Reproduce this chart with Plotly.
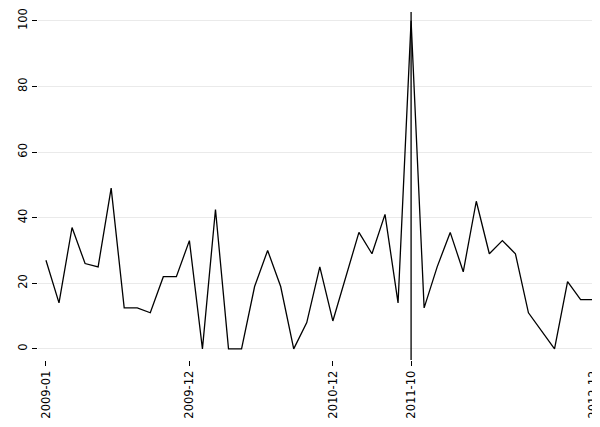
import plotly.graph_objects as go

idx = list(range(43))
vals = [27, 14, 37, 26, 25, 49, 12.5, 12.5, 11, 22, 22, 33, 0, 42.5, 0, 0, 19, 30, 19, 0,
        8, 25, 8.5, 22, 35.5, 29, 41, 14, 100, 12.5, 25, 35.5, 23.5, 45, 29, 33, 29, 11,
        5.5, 0, 20.5, 15, 15]
tick_pos = [0, 11, 22, 28, 42]
tick_txt = ["2009-01", "2009-12", "2010-12", "2011-10", "2012-12"]
vline_at = 28

fig = go.Figure()
fig.add_trace(go.Scatter(x=idx, y=vals, mode="lines", line=dict(color="black", width=1.3)))
fig.add_vline(x=vline_at, line=dict(color="black", width=1.3))
fig.update_layout(
    width=600, height=427, plot_bgcolor="white", paper_bgcolor="white",
    margin=dict(l=30, r=0, t=4, b=75), showlegend=False,
    font=dict(family="DejaVu Sans", size=11.5, color="black"),
)
fig.update_xaxes(range=[-0.61, 43.1], tickvals=tick_pos, ticktext=tick_txt, tickangle=-90,
                 showgrid=False, showline=False, ticks="outside", tickcolor="black",
                 ticklen=5, zeroline=False, automargin=False)
fig.update_yaxes(range=[-3.4, 102.7], tickvals=[0, 20, 40, 60, 80, 100], tickangle=-90,
                 showgrid=True, gridcolor="#eaeaea", showline=False, tickcolor="black",
                 ticks="outside", ticklen=5, zeroline=False, automargin=False)
fig.write_html("out.html")
